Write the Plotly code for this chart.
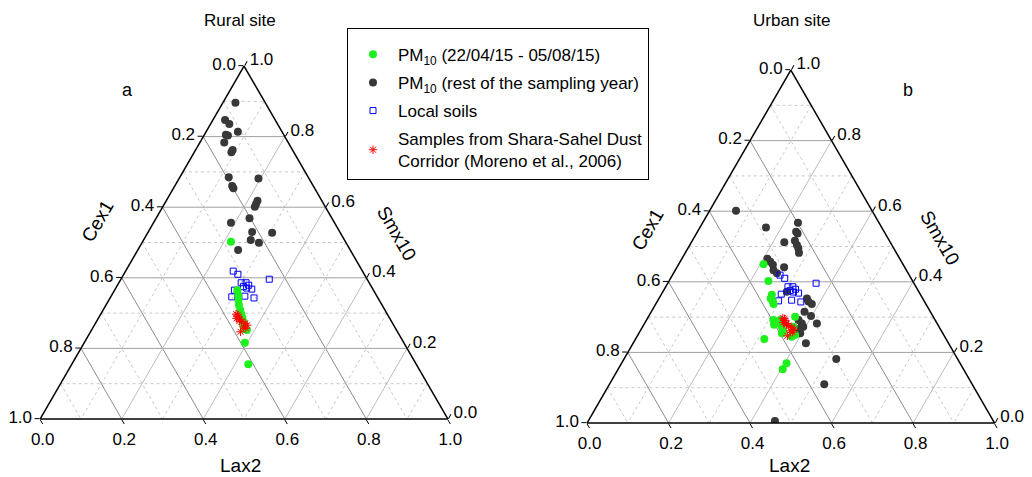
import plotly.graph_objects as go

FONT = "Liberation Sans, Arial, sans-serif"

# ---- data: Smx10 (top vertex) and Lax2 (bottom-right vertex); Cex1 closes the sum ----
rural_event_smx = [0.502, 0.365, 0.351, 0.337, 0.323, 0.309, 0.297, 0.286, 0.275, 0.261, 0.252, 0.216, 0.155, 0.270, 0.255]
rural_event_lax = [0.217, 0.301, 0.310, 0.318, 0.326, 0.336, 0.345, 0.353, 0.361, 0.370, 0.381, 0.394, 0.433, 0.362, 0.372]

rural_rest_smx = [0.896, 0.847, 0.836, 0.814, 0.805, 0.803, 0.783, 0.762, 0.756, 0.685, 0.681, 0.660,
                  0.654, 0.618, 0.609, 0.601, 0.569, 0.556, 0.530, 0.528, 0.507, 0.499, 0.479]
rural_rest_lax = [0.031, 0.030, 0.046, 0.078, 0.053, 0.059, 0.060, 0.091, 0.091, 0.120, 0.195, 0.141,
                  0.147, 0.224, 0.225, 0.226, 0.229, 0.190, 0.255, 0.305, 0.263, 0.287, 0.246]

urban_event_smx = [0.450, 0.402, 0.363, 0.353, 0.344, 0.337, 0.292, 0.282, 0.278, 0.287, 0.292, 0.273,
                   0.259, 0.254, 0.301, 0.273, 0.249, 0.244, 0.238, 0.169, 0.152]
urban_event_lax = [0.208, 0.244, 0.272, 0.274, 0.284, 0.289, 0.311, 0.320, 0.320, 0.322, 0.328, 0.341,
                   0.352, 0.351, 0.360, 0.370, 0.386, 0.380, 0.316, 0.405, 0.404]

urban_rest_smx = [0.601, 0.554, 0.567, 0.542, 0.537, 0.512, 0.516, 0.504, 0.495, 0.482, 0.465, 0.457,
                  0.448, 0.433, 0.424, 0.441, 0.372, 0.353, 0.344, 0.337, 0.315, 0.303, 0.282, 0.292,
                  0.282, 0.268, 0.273, 0.259, 0.254, 0.226, 0.181, 0.110, 0.006]
urban_rest_lax = [0.065, 0.162, 0.234, 0.242, 0.248, 0.228, 0.252, 0.263, 0.271, 0.279, 0.210, 0.221,
                  0.232, 0.241, 0.254, 0.263, 0.304, 0.363, 0.371, 0.383, 0.376, 0.398, 0.423, 0.373,
                  0.386, 0.389, 0.394, 0.389, 0.396, 0.424, 0.521, 0.527, 0.458]

soil_smx = [0.419, 0.410, 0.396, 0.386, 0.386, 0.379, 0.375, 0.371, 0.368, 0.365, 0.346, 0.348, 0.343]
soil_lax = [0.264, 0.280, 0.364, 0.300, 0.312, 0.322, 0.311, 0.321, 0.335, 0.294, 0.297, 0.328, 0.353]

dust_smx = [0.297, 0.295, 0.290, 0.285, 0.278, 0.282, 0.276, 0.271, 0.266, 0.261, 0.257, 0.247]
dust_lax = [0.332, 0.337, 0.341, 0.339, 0.350, 0.349, 0.356, 0.367, 0.375, 0.368, 0.376, 0.368]

tick_vals = [0.0, 0.2, 0.4, 0.6, 0.8, 1.0]
tick_text_rev = ["1.0", "0.8", "0.6", "0.4", "0.2", "0.0"]
major_grid = [0.2, 0.4, 0.6, 0.8]
minor_grid = [0.1, 0.3, 0.5, 0.7, 0.9]

GREEN = "#1ef01e"
DARK = "#383838"

fig = go.Figure()


def grid_traces(subplot, vals, styles):
    for fam, color, dash in styles:
        A, B, C = [], [], []
        for v in vals:
            if fam == "a":
                A += [v, v, None]; B += [1 - v, 0, None]; C += [0, 1 - v, None]
            elif fam == "b":
                A += [1 - v, 0, None]; B += [v, v, None]; C += [0, 1 - v, None]
            else:
                A += [1 - v, 0, None]; B += [0, 1 - v, None]; C += [v, v, None]
        fig.add_trace(go.Scatterternary(a=A, b=B, c=C, mode="lines", subplot=subplot,
                                        line=dict(color=color, width=1, dash=dash),
                                        hoverinfo="skip", showlegend=False, connectgaps=False))


for sp in ["ternary", "ternary2"]:
    grid_traces(sp, minor_grid, [("a", "#c8c8c8", "dot"), ("b", "#c8c8c8", "dot"), ("c", "#c8c8c8", "dot")])
    grid_traces(sp, major_grid, [("a", "#a0a0a0", "solid"), ("b", "#8c8c8c", "solid"), ("c", "#bcbcbc", "solid")])


def add_panel(sp, ev_a, ev_c, rest_a, rest_c, legend):
    fig.add_trace(go.Scatterternary(a=rest_a, c=rest_c, mode="markers", subplot=sp,
                                    name="PM<sub>10</sub> (rest of the sampling year)", legendgroup="g2",
                                    marker=dict(color=DARK, size=8), showlegend=legend, legendrank=2))
    fig.add_trace(go.Scatterternary(a=soil_smx, c=soil_lax, mode="markers", subplot=sp,
                                    name="Local soils", legendgroup="g3",
                                    marker=dict(symbol="square-open", color="#0000ff", size=6,
                                                line=dict(width=1)), showlegend=legend, legendrank=3))
    fig.add_trace(go.Scatterternary(a=ev_a, c=ev_c, mode="markers", subplot=sp,
                                    name="PM<sub>10</sub> (22/04/15 - 05/08/15)", legendgroup="g1",
                                    marker=dict(color=GREEN, size=8), showlegend=legend, legendrank=1))
    fig.add_trace(go.Scatterternary(a=dust_smx, c=dust_lax, mode="markers", subplot=sp,
                                    name="Samples from Shara-Sahel Dust<br>Corridor (Moreno et al., 2006)",
                                    legendgroup="g4",
                                    marker=dict(symbol="asterisk-open", color="#ff0000", size=7,
                                                line=dict(width=1, color="#ff0000")),
                                    showlegend=legend, legendrank=4))


add_panel("ternary", rural_event_smx, rural_event_lax, rural_rest_smx, rural_rest_lax, True)
add_panel("ternary2", urban_event_smx, urban_event_lax, urban_rest_smx, urban_rest_lax, False)

axis_common = dict(tickmode="array", tickvals=tick_vals, ticktext=tick_text_rev,
                   showgrid=False, linecolor="black", linewidth=1.5, ticks="outside",
                   ticklen=5, tickcolor="black", tickfont=dict(size=17, color="black", family=FONT),
                   title=dict(text=""), min=0)


def tern(domx, domy):
    return dict(domain=dict(x=domx, y=domy), bgcolor="white", sum=1,
                aaxis=axis_common, baxis=axis_common, caxis=axis_common)


W, H = 1032, 477
fig.update_layout(
    width=W, height=H, autosize=False,
    margin=dict(l=0, r=0, t=0, b=0),
    paper_bgcolor="white", plot_bgcolor="white",
    font=dict(family=FONT, color="black", size=17),
    ternary=tern([0.0388, 0.4341], [0.1216, 0.8616]),
    ternary2=tern([0.5686, 0.9640], [0.1132, 0.8532]),
    legend=dict(x=347 / W, y=1 - 28 / H, xanchor="left", yanchor="top",
                bordercolor="black", borderwidth=1, bgcolor="white", itemwidth=40,
                font=dict(size=17, family=FONT, color="black"), tracegroupgap=3,
                title=dict(text=" ", font=dict(size=6))),
)

ann = [
    ("Rural site", 240, 21, 0, 17),
    ("Urban site", 791, 21, 0, 17),
    ("a", 127, 90, 0, 18),
    ("b", 908, 90, 0, 18),
    ("Lax2", 240, 465, 0, 19),
    ("Lax2", 789, 465, 0, 19),
    ("Cex1", 97, 221, -60, 19),
    ("Cex1", 648, 230, -60, 19),
    ("Smx10", 396, 233, 60, 19),
    ("Smx10", 940, 237, 60, 19),
]
for t, x, y, ang, s in ann:
    fig.add_annotation(text=t, x=x / W, y=1 - y / H, xref="paper", yref="paper",
                       showarrow=False, textangle=ang, font=dict(size=s, family=FONT, color="black"),
                       xanchor="center", yanchor="middle")

fig.write_html("out.html")
